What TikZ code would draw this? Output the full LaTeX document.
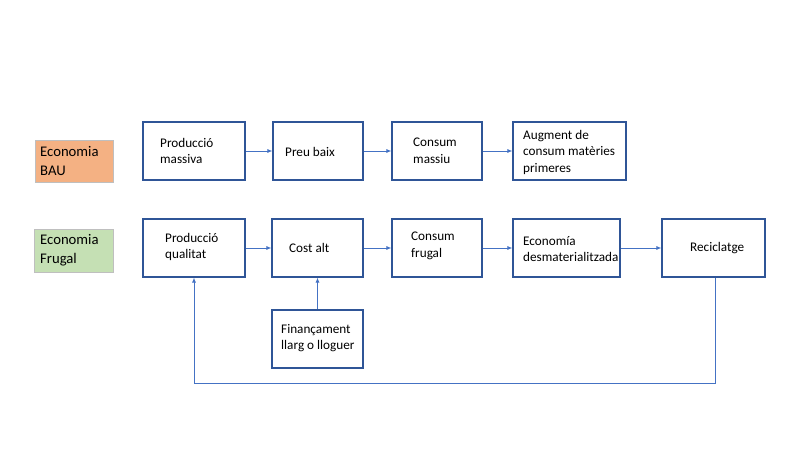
\documentclass[tikz,border=0pt]{standalone}
\usepackage{fontspec}
\setmainfont{Carlito}
\usetikzlibrary{arrows.meta,positioning}
\definecolor{boxc}{HTML}{2F5597}
\definecolor{linec}{HTML}{4472C4}
\definecolor{bauc}{HTML}{F4B183}
\definecolor{frugc}{HTML}{C5E0B4}
\tikzset{
  box/.style={draw=boxc, line width=1.1pt, fill=white, rectangle, inner sep=0pt},
  lab/.style={draw=black!25, line width=0.6pt, rectangle, inner sep=0pt},
  txt/.style={anchor=west, align=left, font=\fontsize{13.2}{16.5}\selectfont, inner sep=0pt},
  ltxt/.style={anchor=west, align=left, font=\fontsize{14.7}{19}\selectfont, inner sep=0pt},
  conn/.style={draw=linec, line width=0.8pt, -{Latex[length=5pt,width=4pt]}},
}
\newcommand{\boxat}[5]{% name, x1, y1, x2, y2
  \node[box, minimum width={(#4-#2)*1pt}, minimum height={(#5-#3)*1pt}] (#1) at ({(#2+#4)/2},{(#3+#5)/2}) {};}
\begin{document}
\begin{tikzpicture}[x=1pt,y=-1pt]
\useasboundingbox (0,0) rectangle (800,450);
% labels
\node[lab, fill=bauc, minimum width=78pt, minimum height=42pt] (bau) at (74,161) {};
\node[ltxt] (baut) at (40,161) {Economia\\BAU};
\node[lab, fill=frugc, minimum width=79pt, minimum height=43pt] (fru) at (73.5,250.5) {};
\node[ltxt] (frut) at (40,250.5) {Economia\\Frugal};
% row 1
\boxat{a1}{143}{122}{245}{180}
\boxat{a2}{273}{122}{363}{180}
\boxat{a3}{392}{122}{482}{180}
\boxat{a4}{513}{122}{626}{180}
\node[txt] at (160,151) {Producció\\massiva};
\node[txt] at (285,152) {Preu baix};
\node[txt] at (413,151) {Consum\\massiu};
\node[txt] at (523,152) {Augment de\\consum matèries\\primeres};
% row 2
\boxat{b1}{143}{219}{245}{277}
\boxat{b2}{272}{219}{363}{277}
\boxat{b3}{392}{219}{482}{277}
\boxat{b4}{513}{219}{620}{277}
\boxat{b5}{662}{219}{765}{277}
\boxat{c1}{272}{310}{363}{368}
\node[txt] at (165,247) {Producció\\qualitat};
\node[txt] at (289,248) {Cost alt};
\node[txt] at (411,246) {Consum\\frugal};
\node[txt] at (523,249) {Economía\\desmaterialitzada};
\node[txt] at (690,248) {Reciclatge};
\node[txt] at (281,338) {Finançament\\llarg o lloguer};
% connectors
\draw[conn] (a1) -- (a2);
\draw[conn] (a2) -- (a3);
\draw[conn] (a3) -- (a4);
\draw[conn] (b1) -- (b2);
\draw[conn] (b2) -- (b3);
\draw[conn] (b3) -- (b4);
\draw[conn] (b4) -- (b5);
\draw[conn] (c1.north) -- (b2.south -| c1.north);
\coordinate (r1) at (715,383);
\coordinate (r2) at (194,383);
\draw[conn] (b5.south -| r1) -- (r1) -- (r2) -- (b1.south -| r2);
\end{tikzpicture}
\end{document}
